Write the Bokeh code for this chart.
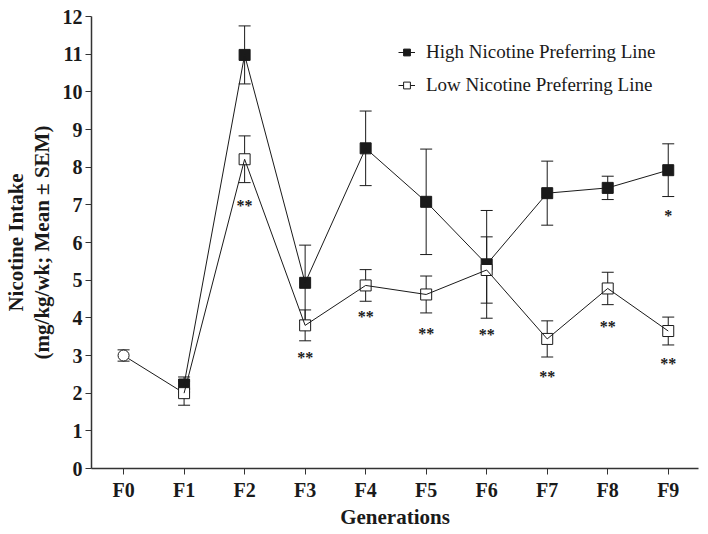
from bokeh.plotting import figure
from bokeh.models import (Range1d, FixedTicker, Whisker, TeeHead, ColumnDataSource,
                          Legend, LegendItem)
from bokeh.core.properties import value
from bokeh.embed import file_html
from bokeh.resources import INLINE

generations = ["F0", "F1", "F2", "F3", "F4", "F5", "F6", "F7", "F8", "F9"]
y_ticks = [0, 1, 2, 3, 4, 5, 6, 7, 8, 9, 10, 11, 12]

base_x = [0]
base_mean = [3.0]
base_sem = [0.15]

line_x = [1, 2, 3, 4, 5, 6, 7, 8, 9]
high_mean = [2.23, 10.98, 4.93, 8.50, 7.08, 5.42, 7.31, 7.45, 7.92]
high_sem = [0.20, 0.77, 1.00, 0.99, 1.40, 1.43, 0.85, 0.31, 0.70]
low_mean = [2.00, 8.21, 3.80, 4.86, 4.62, 5.27, 3.44, 4.78, 3.65]
low_sem = [0.32, 0.62, 0.41, 0.42, 0.49, 0.88, 0.48, 0.43, 0.37]

low_sig_x = [2, 3, 4, 5, 6, 7, 8, 9]
low_sig_y = [7.08, 3.05, 4.13, 3.70, 3.67, 2.55, 3.88, 2.90]
low_sig_txt = ["**"] * 8
high_sig_x = [9]
high_sig_y = [6.82]
high_sig_txt = ["*"]

SERIF = "Liberation Serif"
INK = "#1a1a1a"

p = figure(width=708, height=532, output_backend="svg", toolbar_location=None,
           x_range=Range1d(-0.53, 9.5), y_range=Range1d(0, 12),
           min_border_left=91, min_border_right=10, min_border_top=16, min_border_bottom=64)
p.grid.visible = False
p.outline_line_color = None
p.background_fill_color = "white"

def mk(mean, sem):
    return [m + s for m, s in zip(mean, sem)], [m - s for m, s in zip(mean, sem)]

hu, hl = mk(high_mean, high_sem)
lu, ll = mk(low_mean, low_sem)
bu, bl = mk(base_mean, base_sem)
src_h = ColumnDataSource(dict(x=line_x, y=high_mean, up=hu, lo=hl))
src_l = ColumnDataSource(dict(x=line_x, y=low_mean, up=lu, lo=ll))
src_b = ColumnDataSource(dict(x=base_x, y=base_mean, up=bu, lo=bl))

for src in (src_h, src_l, src_b):
    w = Whisker(source=src, base="x", upper="up", lower="lo", line_color=INK, line_width=1,
                upper_head=TeeHead(size=12, line_color=INK, line_width=1),
                lower_head=TeeHead(size=12, line_color=INK, line_width=1))
    p.add_layout(w)

# base connection F0 -> F1 (low)
p.line(x=[base_x[0], line_x[0]], y=[base_mean[0], low_mean[0]], line_color=INK, line_width=1)
sc_b = p.scatter(x="x", y="y", source=src_b, marker="circle", size=11,
                 fill_color="white", line_color=INK, line_width=1)

sc_h = p.scatter(x="x", y="y", source=src_h, marker="square", size=11,
                 fill_color=INK, line_color=INK, line_width=1)
sc_l = p.scatter(x="x", y="y", source=src_l, marker="square", size=11,
                 fill_color="white", line_color=INK, line_width=1)
ln_h = p.line(x="x", y="y", source=src_h, line_color=INK, line_width=1)
ln_l = p.line(x="x", y="y", source=src_l, line_color=INK, line_width=1)

p.text(x=low_sig_x, y=low_sig_y, text=low_sig_txt, text_font=value(SERIF),
       text_font_size="16px", text_font_style="bold", text_align="center",
       text_baseline="middle", text_color=INK, y_offset=4)
p.text(x=high_sig_x, y=high_sig_y, text=high_sig_txt, text_font=value(SERIF),
       text_font_size="16px", text_font_style="bold", text_align="center",
       text_baseline="middle", text_color=INK, y_offset=4)

p.xaxis.ticker = FixedTicker(ticks=list(range(len(generations))))
p.xaxis.major_label_overrides = {i: g for i, g in enumerate(generations)}
p.yaxis.ticker = FixedTicker(ticks=y_ticks)
for ax in (p.xaxis, p.yaxis):
    ax.axis_line_color = "#333333"
    ax.axis_line_width = 1.5
    ax.major_tick_line_color = "#333333"
    ax.major_tick_out = 6
    ax.major_tick_in = 0
    ax.minor_tick_line_color = None
    ax.major_label_text_font = SERIF
    ax.major_label_text_font_style = "bold"
    ax.major_label_text_font_size = "20px"
    ax.major_label_text_color = INK
    ax.major_label_text_line_height = 1.0
    ax.axis_label_text_font = SERIF
    ax.axis_label_text_font_style = "bold"
    ax.axis_label_text_font_size = "21px"
    ax.axis_label_text_color = INK
    ax.axis_label_text_line_height = 1.05
p.xaxis.axis_label = "Generations"
p.xaxis.major_label_standoff = 4
p.xaxis.axis_label_standoff = 1
p.yaxis.axis_label = "Nicotine Intake\n(mg/kg/wk; Mean \u00b1 SEM)"
p.yaxis.major_label_standoff = 3
p.yaxis.axis_label_standoff = 6

legend = Legend(items=[
    LegendItem(label="High Nicotine Preferring Line", renderers=[ln_h, sc_h]),
    LegendItem(label="Low Nicotine Preferring Line", renderers=[ln_l, sc_l]),
], location=(307, 372))
legend.border_line_color = None
legend.background_fill_alpha = 0
legend.padding = 0
legend.margin = 0
legend.spacing = 11
legend.glyph_width = 17
legend.glyph_height = 20
legend.label_height = 20
legend.label_standoff = 11
legend.label_text_font = SERIF
legend.label_text_font_size = "19px"
legend.label_text_color = INK
p.add_layout(legend)

open("out.html", "w").write(file_html(p, INLINE))
